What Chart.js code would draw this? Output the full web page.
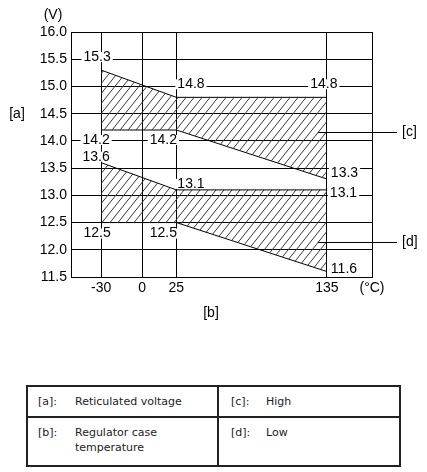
<!DOCTYPE html>
<html>
<head>
<meta charset="utf-8">
<script src="https://cdn.jsdelivr.net/npm/chart.js@4"></script>
<style>
  body { margin: 0; background: #fff; width: 427px; height: 472px; overflow: hidden; position: relative; }
  #chartBox { position: absolute; left: 0; top: 0; width: 427px; height: 340px; }
  #legend {
    position: absolute; left: 26px; top: 385px; width: 375px;
    border-collapse: collapse; font-family: "DejaVu Sans", Verdana, sans-serif; font-size: 11px; color: #222;
  }
  #legend td { border: 2px solid #222; padding: 0 0 0 10px; }
  #legend tr.r1 td { height: 29px; vertical-align: middle; }
  #legend tr.r2 td { height: 40px; vertical-align: top; padding-top: 7px; line-height: 15px; }
  #legend .k { display: inline-block; width: 37px; vertical-align: top; }
  #legend .v { display: inline-block; vertical-align: top; }
  #legend td.c2 { padding-left: 12px; }
  #legend td.c2 .k { width: 35px; }
</style>
</head>
<body>
<div id="chartBox"><canvas id="regChart" width="427" height="340"></canvas></div>
<table id="legend">
  <tr class="r1">
    <td style="width:179px"><span class="k">[a]:</span><span class="v">Reticulated voltage</span></td>
    <td class="c2"><span class="k">[c]:</span><span class="v">High</span></td>
  </tr>
  <tr class="r2">
    <td><span class="k">[b]:</span><span class="v">Regulator case<br>temperature</span></td>
    <td class="c2"><span class="k">[d]:</span><span class="v">Low</span></td>
  </tr>
</table>
<script>
// temperature breakpoints (°C)
const temps = [-30, 25, 135];
// high band [c]
const highUpper = [15.3, 14.8, 14.8];
const highLower = [14.2, 14.2, 13.3];
// low band [d]
const lowUpper = [13.6, 13.1, 13.1];
const lowLower = [12.5, 12.5, 11.6];

const xTicks = [-30, 0, 25, 135, 168];
const xTickLabels = ['-30', '0', '25', '135', '(°C)'];
const yTicks = [11.5, 12.0, 12.5, 13.0, 13.5, 14.0, 14.5, 15.0, 15.5, 16.0];

const FONT = '"Liberation Sans", Arial, sans-serif';

function hatchPattern() {
  const c = document.createElement('canvas');
  c.width = 8; c.height = 10;
  const g = c.getContext('2d');
  g.strokeStyle = '#3a3a3a';
  g.lineWidth = 1;
  g.beginPath();
  [-8, 0, 8].forEach(dx => {
    g.moveTo(-8 + dx, 20);
    g.lineTo(16 + dx, -10);
  });
  g.stroke();
  return g.createPattern(c, 'repeat');
}

const pts = ys => temps.map((t, i) => ({ x: t, y: ys[i] }));

// value labels hang off the band corners: [dataset, point, text, dx, dy, align]
const cornerLabels = [
  [0, 0, '15.3', -4, -13, 'center'],
  [0, 1, '14.8', 1, -13, 'left'],
  [0, 2, '14.8', -3, -13, 'center'],
  [1, 0, '14.2', -5, 10, 'center'],
  [1, 1, '14.2', -13, 10, 'center'],
  [2, 0, '13.6', -5, -6, 'center'],
  [2, 1, '13.1', 1, -6, 'left'],
  [1, 2, '13.3', 4, -6, 'left'],
  [2, 2, '13.1', 3, 3, 'left'],
  [3, 0, '12.5', -4, 11, 'center'],
  [3, 1, '12.5', -13, 11, 'center'],
  [3, 2, '11.6', 4, -2, 'left']
];

const annotate = {
  id: 'annotate',
  beforeDatasetsDraw(chart) {
    const ctx = chart.ctx;
    ctx.save();
    ctx.font = '14px ' + FONT;
    ctx.textBaseline = 'middle';
    cornerLabels.forEach(([ds, i, txt, dx, dy, align]) => {
      const p = chart.getDatasetMeta(ds).data[i];
      const w = ctx.measureText(txt).width;
      const cx = p.x + dx, cy = p.y + dy;
      const left = align === 'left' ? cx : cx - w / 2;
      ctx.fillStyle = '#fff';
      ctx.fillRect(left - 2, cy - 5, w + 4, 10);
      ctx.fillStyle = '#000';
      ctx.textAlign = 'left';
      ctx.fillText(txt, left, cy);
    });
    ctx.restore();
  },
  afterDraw(chart) {
    const ctx = chart.ctx;
    const xs = chart.scales.x, ys = chart.scales.y, area = chart.chartArea;
    ctx.save();
    ctx.font = '14px ' + FONT;
    ctx.fillStyle = '#000';
    ctx.textBaseline = 'middle';
    ctx.textAlign = 'center';
    ctx.fillText('(V)', 53, 15);
    ctx.fillText('[a]', 17, ys.getPixelForValue(14.5));
    ctx.fillText('[b]', 211, 313);
    // leaders to [c] / [d]
    ctx.strokeStyle = '#000';
    ctx.lineWidth = 1;
    [[14.17, '[c]'], [12.15, '[d]']].forEach(([v, t]) => {
      const y = Math.round(ys.getPixelForValue(v)) + 0.5;
      ctx.beginPath();
      ctx.moveTo(xs.getPixelForValue(135) - 9, y);
      ctx.lineTo(area.right + 25, y);
      ctx.stroke();
      ctx.textAlign = 'left';
      ctx.fillText(t, area.right + 30, y);
    });
    ctx.restore();
  }
};

const hatch = hatchPattern();
const band = (data, fill) => ({
  data: data,
  borderColor: '#000',
  borderWidth: 1,
  pointRadius: 0,
  tension: 0,
  fill: fill,
  backgroundColor: hatch
});

new Chart(document.getElementById('regChart'), {
  type: 'line',
  data: {
    datasets: [
      band(pts(highUpper), '+1'),
      band(pts(highLower), false),
      band(pts(lowUpper), '+1'),
      band(pts(lowLower), false)
    ]
  },
  options: {
    responsive: false,
    animation: false,
    events: [],
    layout: { padding: { top: 32, right: 55, bottom: 38, left: 0 } },
    plugins: { legend: { display: false }, tooltip: { enabled: false } },
    scales: {
      x: {
        type: 'linear',
        min: -52,
        max: 168,
        afterBuildTicks: scale => { scale.ticks = xTicks.map(v => ({ value: v })); },
        afterFit: scale => { scale.height = 25; },
        ticks: {
          autoSkip: false,
          maxRotation: 0,
          padding: 3,
          color: '#000',
          font: { family: FONT, size: 14 },
          callback: (v, i) => xTickLabels[i]
        },
        grid: { color: '#000', lineWidth: 1, drawTicks: false },
        border: { color: '#000', width: 1 }
      },
      y: {
        min: 11.5,
        max: 16,
        afterBuildTicks: scale => { scale.ticks = yTicks.map(v => ({ value: v })); },
        afterFit: scale => { scale.width = 71; },
        ticks: {
          padding: 4,
          color: '#000',
          font: { family: FONT, size: 14 },
          callback: v => Number(v).toFixed(1)
        },
        grid: { color: '#000', lineWidth: 1, drawTicks: false },
        border: { color: '#000', width: 1 }
      }
    }
  },
  plugins: [annotate]
});
</script>
</body>
</html>
